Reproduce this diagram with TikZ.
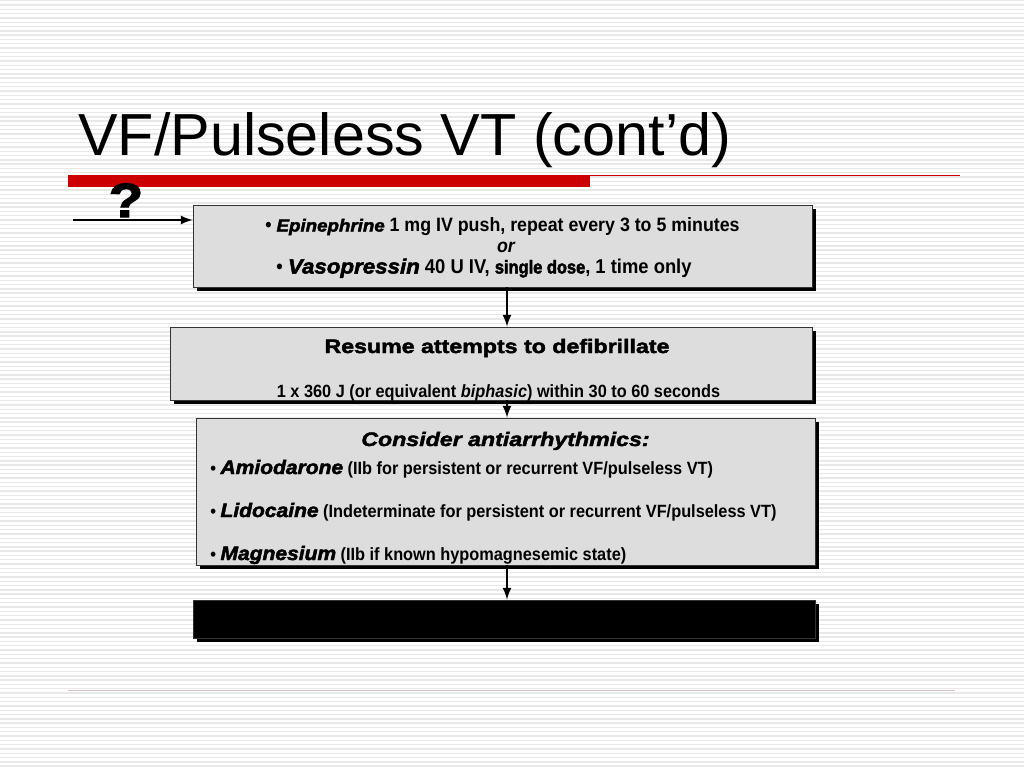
\documentclass[tikz,border=0pt]{standalone}
\usepackage{fontspec}
\setmainfont{Liberation Sans}
\newfontfamily\bodyfont{Liberation Sans}[FakeStretch=0.92]
\newfontfamily\heavyfont{Liberation Sans}[FakeBold=2.4,FakeStretch=1.08]
\newfontfamily\widefont{Liberation Sans}[FakeBold=2.2,FakeStretch=1.19]
\newfontfamily\densefont{Liberation Sans}[FakeBold=2.4,FakeStretch=0.88]
\usetikzlibrary{fit,shadows}
\newcommand\drug[2][14.6]{{\fontsize{#1}{16}\selectfont\heavyfont\bfseries\itshape #2}}
\definecolor{slidered}{HTML}{CC0000}
\definecolor{boxgray}{HTML}{DDDDDD}

\begin{document}
\begin{tikzpicture}[x=0.75pt,y=-0.75pt,
    stripe/.style={fill=black!9},
    box/.style={draw=black!80,fill=boxgray,inner sep=0pt,line width=0.7pt,
      drop shadow={shadow xshift=3pt,shadow yshift=-3pt,opacity=1,fill=black}},
    txt/.style={font=\bodyfont\fontsize{13.3}{15}\selectfont\bfseries,inner sep=0pt,anchor=base},
    big/.style={font=\bodyfont\fontsize{14.5}{16}\selectfont\bfseries},
    flow/.style={-latex,line width=2pt}]
    \useasboundingbox (0,0) rectangle (1024,768);
    \fill[white] (0,0) rectangle (1024,768);
    \foreach \y in {0,4.3,...,768} {
      \fill[stripe] (0,\y) rectangle (1024,\y+1.4);
    }
    % title and rules
    \node[anchor=base west,inner sep=0pt,font=\fontsize{44.5}{50}\selectfont] (title) at (78,155) {VF/Pulseless VT (cont’d)};
    \fill[slidered] (68,175) rectangle (590,187);
    \draw[slidered,line width=0.75pt] (590,175.5) -- (960,175.5);
    \draw[red!30!black!25,line width=0.75pt] (68,690.5) -- (955,690.5);
    \node[anchor=base,inner sep=0pt,font=\fontsize{36}{36}\selectfont\widefont\bfseries] (q) at (126,217) {?};

    % boxes
    \node[box,fit={(193,205) (812,287)}] (b1) {};
    \node[box,fit={(170,327) (812,400)}] (b2) {};
    \node[box,fit={(196,418) (815,565)}] (b3) {};
    \node[box,fill=black,fit={(193,600) (815,638)}] (b4) {};

    \node[txt,big] (epi) at (502.5,231.5) {• \drug[13]{Epinephrine} 1 mg IV push, repeat every 3 to 5 minutes};
    \node[txt,font=\bodyfont\fontsize{14.5}{16}\selectfont\bfseries\itshape] (or) at (506,252.5) {or};
    \node[txt,font=\bodyfont\fontsize{15}{16}\selectfont\bfseries] (vaso) at (484,273.5) {• \drug[15.5]{Vasopressin} 40 U IV, {\fontsize{14}{15}\selectfont\densefont\bfseries single dose}, 1 time only};

    \node[txt,font=\fontsize{14.6}{16}\selectfont\widefont\bfseries] (resume) at (497,353) {Resume attempts to defibrillate};
    \node[txt] (shock) at (498.5,397) {1 x 360 J (or equivalent \textit{biphasic}) within 30 to 60 seconds};

    \node[txt,font=\fontsize{14.6}{16}\selectfont\widefont\bfseries\itshape] (cons) at (505.5,446) {Consider antiarrhythmics:};
    \node[txt,anchor=base west] (amio) at (210,474) {• \drug{Amiodarone} (IIb for persistent or recurrent VF/pulseless VT)};
    \node[txt,anchor=base west] (lido) at (210,517) {• \drug{Lidocaine} (Indeterminate for persistent or recurrent VF/pulseless VT)};
    \node[txt,anchor=base west] (mag) at (210,560) {• \drug{Magnesium} (IIb if known hypomagnesemic state)};

    % connectors
    \coordinate (spine) at (507,0);
    \coordinate (in) at (73,220);
    \draw[flow] (in) -- (in -| b1.west);
    \draw[flow] (b1.south -| spine) -- (b2.north -| spine);
    \draw[flow] (b2.south -| spine) -- (b3.north -| spine);
    \draw[flow] (b3.south -| spine) -- (b4.north -| spine);
  \end{tikzpicture}
\end{document}
